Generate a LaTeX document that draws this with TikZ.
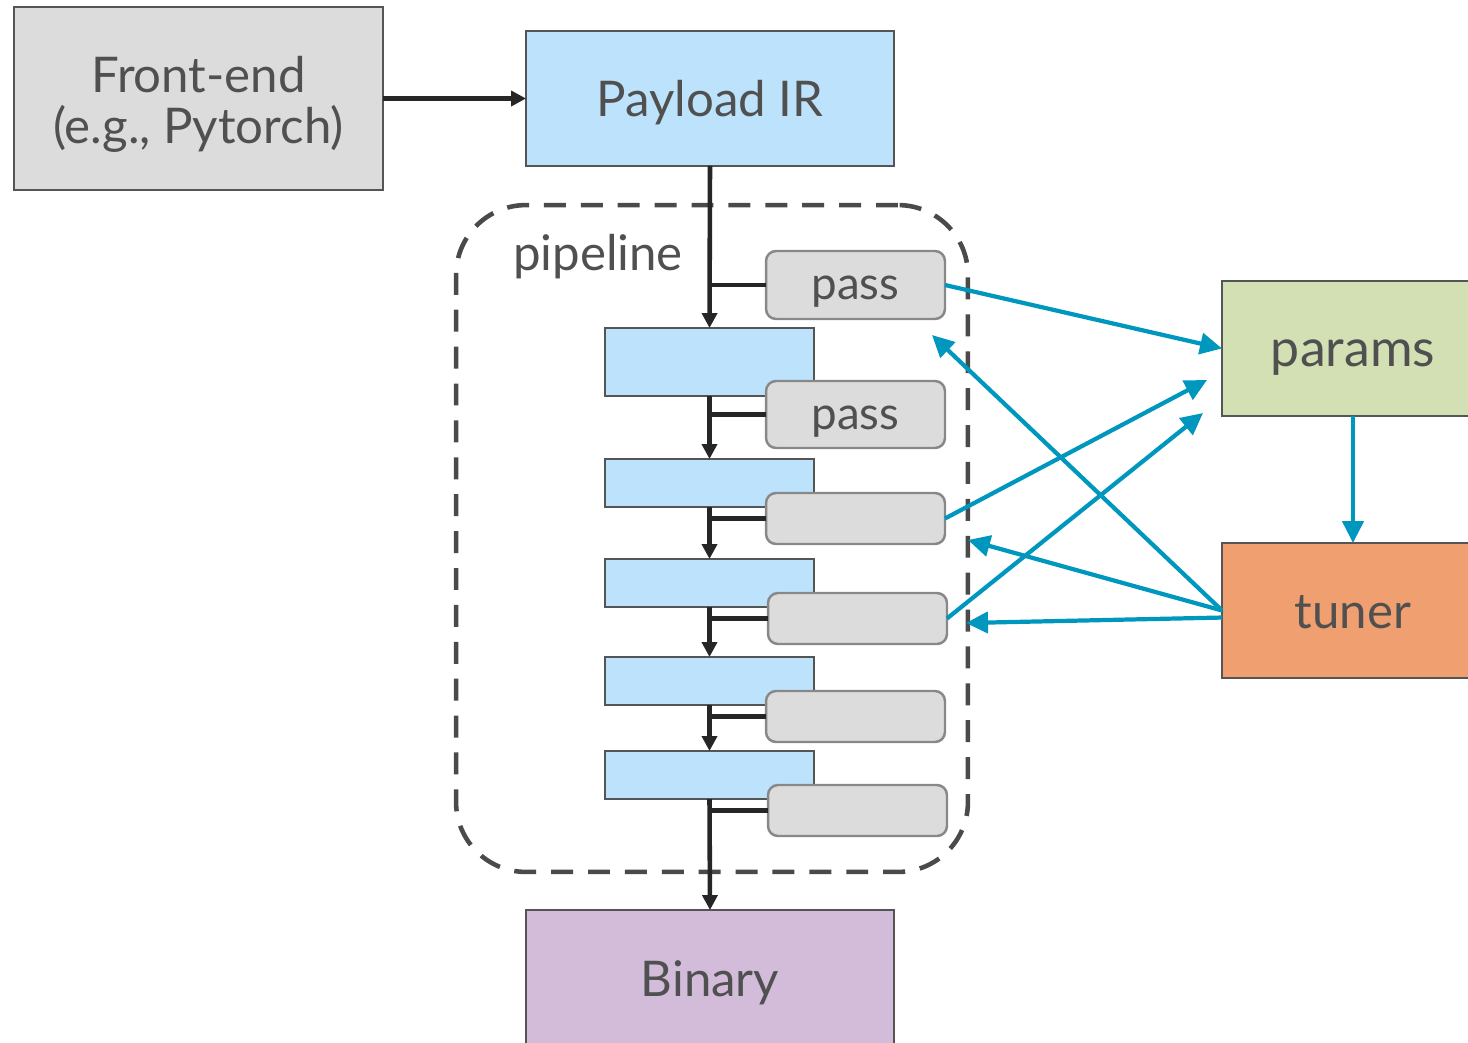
\documentclass[tikz,border=0pt]{standalone}
\usepackage{fontspec}
\setmainfont{Lato}
\usetikzlibrary{arrows.meta}

\definecolor{txt}{HTML}{505050}
\definecolor{edge}{HTML}{555555}
\definecolor{passedge}{HTML}{888888}
\definecolor{greyfill}{HTML}{DCDCDC}
\definecolor{irfill}{HTML}{BDE3FC}
\definecolor{binfill}{HTML}{D2BCDA}
\definecolor{parfill}{HTML}{D2E0B4}
\definecolor{tunfill}{HTML}{F09F70}
\definecolor{tealline}{HTML}{0097BF}
\definecolor{flowline}{HTML}{262626}
\definecolor{dashline}{HTML}{4A4A4A}

\tikzset{
  box/.style={draw=edge, line width=1.4pt, inner sep=0pt, outer sep=0pt,
    text=txt, font=\fontsize{28}{33}\selectfont, align=center,
    text height=21pt, text depth=0pt},
  irbox/.style={box, fill=irfill, minimum width=4.18cm},
  passbox/.style={draw=passedge, fill=greyfill, line width=1.4pt, rounded corners=0.2cm,
    minimum width=3.58cm, inner sep=0pt, outer sep=0pt, text=txt,
    font=\fontsize{26}{30}\selectfont, text height=17pt, text depth=0pt},
  flow/.style={draw=flowline, line width=2.6pt, -{Triangle[length=8.5pt,width=8.5pt]}},
  tapline/.style={draw=flowline, line width=2.6pt},
  tune/.style={draw=tealline, line width=2.4pt, -{Triangle[length=12.5pt,width=12pt]}},
  label/.style={text=txt, inner sep=0pt, align=center},
}

\begin{document}
\begin{tikzpicture}[x=0.02cm, y=-0.02cm]
\useasboundingbox (0,0) rectangle (1468,1042);
\clip (0,0) rectangle (1468,1042);

% pipeline frame
\node[draw=dashline, line width=2.6pt, dash pattern=on 12.5pt off 8.5pt,
      rounded corners=1.4cm, minimum width=10.24cm, minimum height=13.34cm,
      inner sep=0pt] (pipe) at (712,538.5) {};
\node[label, font=\fontsize{28}{33}\selectfont, anchor=base] (pipelabel) at (598,270) {pipeline};

% main boxes
\node[box, fill=greyfill, minimum width=7.38cm, minimum height=3.66cm] (front) at (198.5,98.5) {};
\node[label, font=\fontsize{28}{29}\selectfont, anchor=base] (frontlabel) at (198.5,143)
  {Front-end\\(e.g., Pytorch)};
\node[box, fill=irfill, minimum width=7.36cm, minimum height=2.7cm] (payload) at (710,98.5) {Payload IR};
\node[box, fill=binfill, minimum width=7.36cm, minimum height=2.72cm] (binary) at (710,978) {Binary};
\node[box, fill=parfill, minimum width=5.24cm, minimum height=2.7cm,
      font=\fontsize{29.5}{34}\selectfont] (params) at (1353,348.5) {params};
\node[box, fill=tunfill, minimum width=5.24cm, minimum height=2.7cm] (tuner) at (1353,610.5) {tuner};

% IR stages
\node[irbox, minimum height=1.36cm] (b1) at (709.5,362) {};
\node[irbox, minimum height=0.96cm] (b2) at (709.5,483) {};
\node[irbox, minimum height=0.96cm] (b3) at (709.5,583) {};
\node[irbox, minimum height=0.96cm] (b4) at (709.5,681) {};
\node[irbox, minimum height=0.96cm] (b5) at (709.5,775) {};

% passes
\node[passbox, minimum height=1.36cm] (p1) at (855.5,285) {pass};
\node[passbox, minimum height=1.34cm] (p2) at (855.5,414.5) {pass};
\node[passbox, minimum height=1.02cm] (p3) at (855.5,518.5) {};
\node[passbox, minimum height=1.02cm] (p4) at (857.5,618.5) {};
\node[passbox, minimum height=1.02cm] (p5) at (855.5,716.5) {};
\node[passbox, minimum height=1.02cm] (p6) at (857.5,810.5) {};

% compilation flow
\draw[flow] (front.east) -- (payload.west);
\draw[flow] (payload.south) -- (b1.north);
\draw[flow] (b1.south) -- (b2.north);
\draw[flow] (b2.south) -- (b3.north);
\draw[flow] (b3.south) -- (b4.north);
\draw[flow] (b4.south) -- (b5.north);
\draw[flow] (b5.south) -- (binary.north);
\draw[tapline] (p1.west) -- (p1.west -| payload.south);
\draw[tapline] (p2.west) -- (p2.west -| b1.south);
\draw[tapline] (p3.west) -- (p3.west -| b2.south);
\draw[tapline] (p4.west) -- (p4.west -| b3.south);
\draw[tapline] (p5.west) -- (p5.west -| b4.south);
\draw[tapline] (p6.west) -- (p6.west -| b5.south);

% tuning loop
\coordinate (parin1) at (1207,380);
\coordinate (parin2) at (1203,413);
\coordinate (back1) at (932,335);
\coordinate (back2) at (968,540);
\coordinate (back3) at (966,623);
\draw[tune] (params.south) -- (tuner.north);
\draw[tune] (p1.east) -- (params.west);
\draw[tune] (p3.east) -- (parin1);
\draw[tune] (p4.east) -- (parin2);
\draw[tune] (tuner.west) -- (back1);
\draw[tune] (tuner.west) -- (back2);
\draw[tune] ([yshift=-4]tuner.west) -- (back3);
\end{tikzpicture}
\end{document}
